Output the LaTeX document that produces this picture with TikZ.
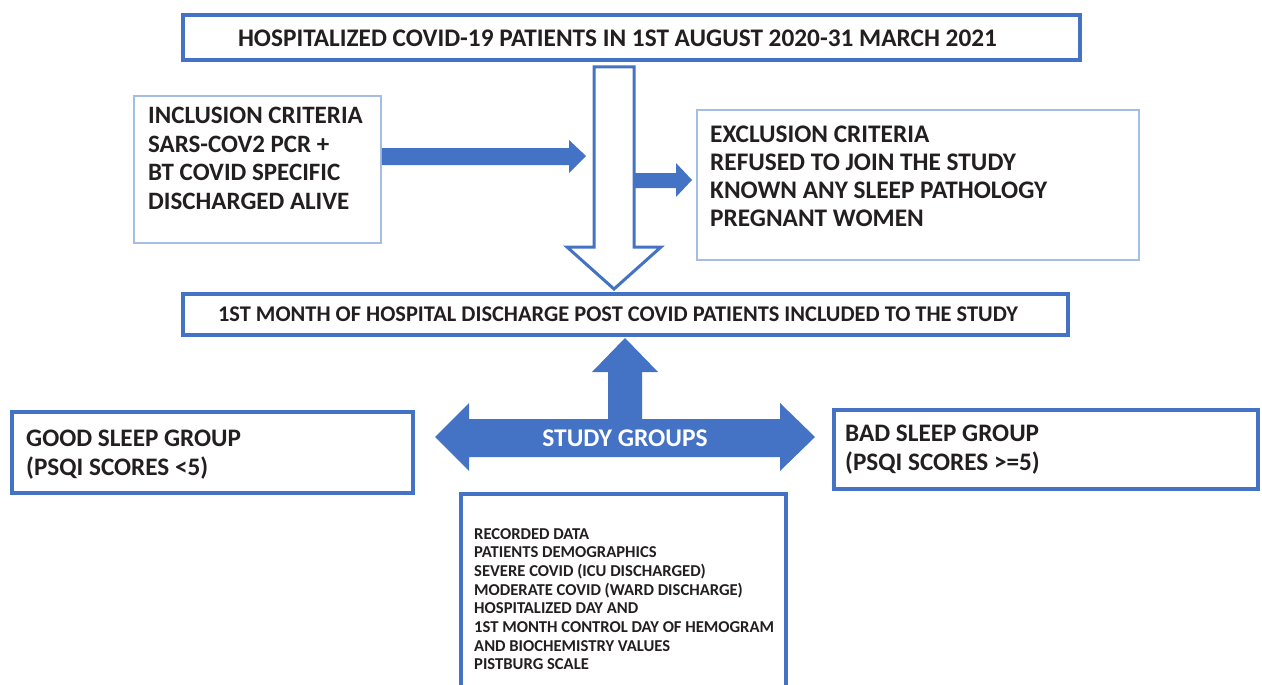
\documentclass[tikz,border=0pt]{standalone}
\usepackage{fontspec}
\setmainfont{Carlito}
\definecolor{bblue}{RGB}{68,114,196}
\definecolor{lblue}{RGB}{165,188,228}
\definecolor{ink}{RGB}{35,31,32}
\begin{document}
\begin{tikzpicture}[x=1pt,y=-1pt,
  thickbox/.style={draw=bblue, line width=4pt, fill=white, inner sep=0pt},
  thinbox/.style={draw=lblue, line width=1.6pt, fill=white, inner sep=0pt},
  txt/.style={inner sep=0pt, anchor=north west, align=left, text=ink},
  barrow/.style={fill=bblue, draw=none},
  harrow/.style={draw=bblue, line width=3pt, fill=white, line join=miter}
]
\useasboundingbox (0,0) rectangle (1262,685);
\clip (0,0) rectangle (1262,685);

% boxes
\node[thickbox, minimum width=897pt, minimum height=45pt] (top) at (631.5,37.5) {};
\node[thinbox, minimum width=247pt, minimum height=147pt] (inc) at (257.5,169.5) {};
\node[thinbox, minimum width=442pt, minimum height=150pt] (exc) at (918,185) {};

% hollow down arrow
\draw[harrow] (594,67) -- (634,67) -- (634,247) -- (661,247) -- (614,289) -- (567,247) -- (594,247) -- cycle;

\node[thickbox, minimum width=885pt, minimum height=41pt] (incl) at (625.5,314.5) {};
\node[thickbox, minimum width=401pt, minimum height=81pt] (good) at (212.5,452.5) {};
\node[thickbox, minimum width=424pt, minimum height=79pt] (bad) at (1046,449.5) {};
\node[thickbox, minimum width=325pt, minimum height=226pt] (rec) at (623.5,607) {};

% solid arrows
\fill[barrow] (inc.east |- 0,148) -- (569,148) -- (569,140) -- (586,156) -- (569,173) -- (569,165) -- (inc.east |- 0,165) -- cycle;
\fill[barrow] (635,173) -- (676,173) -- (676,163) -- (692,180) -- (676,197) -- (676,188) -- (635,188) -- cycle;
\fill[barrow] (435,437) -- (469,403) -- (469,419) -- (608,419) -- (608,372) -- (592,372) -- (625,338) -- (658,372) -- (642,372) -- (642,419) -- (780,419) -- (780,403) -- (815,437) -- (780,471) -- (780,457) -- (469,457) -- (469,471) -- cycle;

% texts
\node[txt, anchor=center, font=\bfseries\fontsize{25.3}{28}\selectfont] (toptext) at (617.5,38) {HOSPITALIZED COVID-19 PATIENTS IN 1ST AUGUST 2020-31 MARCH 2021};
\node[txt, font=\bfseries\fontsize{25}{28.5}\selectfont] (inctext) at (148,107) {INCLUSION CRITERIA\\SARS-COV2 PCR +\\BT COVID SPECIFIC\\DISCHARGED ALIVE};
\node[txt, font=\bfseries\fontsize{25.3}{28}\selectfont] (exctext) at (710,126) {EXCLUSION CRITERIA\\REFUSED TO JOIN THE STUDY\\KNOWN ANY SLEEP PATHOLOGY\\PREGNANT WOMEN};
\node[txt, anchor=center, font=\bfseries\fontsize{22.4}{26}\selectfont] (incltext) at (618,314) {1ST MONTH OF HOSPITAL DISCHARGE POST COVID PATIENTS INCLUDED TO THE STUDY};
\node[txt, font=\bfseries\fontsize{25.2}{29}\selectfont] (goodtext) at (26,430) {GOOD SLEEP GROUP\\(PSQI SCORES <5)};
\node[txt, font=\bfseries\fontsize{25.2}{29}\selectfont] (badtext) at (845,425) {BAD SLEEP GROUP\\(PSQI SCORES >=5)};
\node[txt, anchor=center, text=white, font=\bfseries\fontsize{25.5}{28}\selectfont] (study) at (625,438) {STUDY GROUPS};
\node[txt, font=\bfseries\fontsize{16.6}{18.7}\selectfont] (rectext) at (474,528) {RECORDED DATA\\PATIENTS DEMOGRAPHICS\\SEVERE COVID (ICU DISCHARGED)\\MODERATE COVID (WARD DISCHARGE)\\HOSPITALIZED DAY AND\\1ST MONTH CONTROL DAY OF HEMOGRAM\\AND BIOCHEMISTRY VALUES\\PISTBURG SCALE};
\end{tikzpicture}
\end{document}
